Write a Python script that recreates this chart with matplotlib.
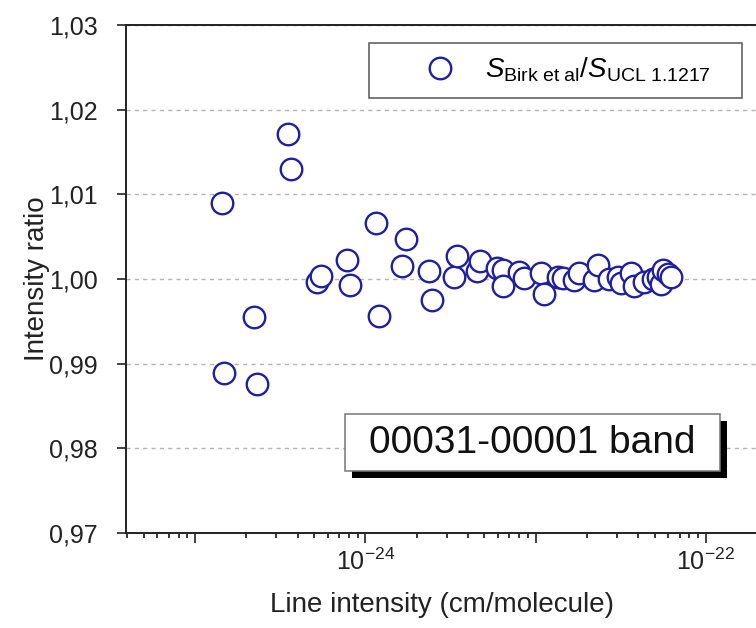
import matplotlib
matplotlib.use('Agg')
import matplotlib.pyplot as plt
from matplotlib.patches import Rectangle
from matplotlib.ticker import FixedLocator, LogLocator, NullFormatter, FuncFormatter
import numpy as np

plt.rcParams['font.family'] = ['Liberation Sans', 'DejaVu Sans']
plt.rcParams['mathtext.fontset'] = 'custom'
plt.rcParams['mathtext.rm'] = 'Liberation Sans'
plt.rcParams['mathtext.it'] = 'Liberation Sans:italic'

# line intensity (cm/molecule) and ratio S_Birk / S_UCL
intensity = [1.442e-25, 1.483e-25, 2.223e-25, 2.317e-25, 3.524e-25, 3.673e-25,
             5.224e-25, 5.508e-25, 7.834e-25, 8.166e-25, 1.161e-24, 1.208e-24,
             1.652e-24, 1.742e-24, 2.377e-24, 2.477e-24, 3.296e-24, 3.475e-24,
             4.498e-24, 4.742e-24, 5.970e-24, 6.397e-24, 6.40e-24, 7.943e-24,
             8.49e-24, 1.069e-23, 1.114e-23, 1.346e-23, 1.442e-23, 1.675e-23,
             1.791e-23, 2.193e-23, 2.317e-23, 2.685e-23, 3.034e-23, 3.162e-23,
             3.622e-23, 3.767e-23, 4.315e-23, 4.875e-23, 5.224e-23, 5.433e-23,
             5.585e-23, 5.970e-23, 6.223e-23]
ratio = [1.0090, 0.9889, 0.9955, 0.9876, 1.0171, 1.0130, 0.9997, 1.0003,
         1.0022, 0.9993, 1.0066, 0.9956, 1.0015, 1.0047, 1.0010, 0.9975,
         1.0002, 1.0027, 1.0009, 1.0021, 1.0013, 1.0011, 0.9992, 1.0008,
         1.0001, 1.0007, 0.9982, 1.0002, 1.0001, 0.9999, 1.0007, 0.9999,
         1.0017, 1.0000, 1.0002, 0.9995, 1.0007, 0.9992, 0.9996, 1.0000,
         1.0002, 0.9994, 1.0011, 1.0006, 1.0002]

y_ticks = [0.97, 0.98, 0.99, 1.00, 1.01, 1.02, 1.03]
x_decades = [-25, -24, -23, -22]
x_labelled = [-24, -22]
band_label = '00031-00001 band'
series_label = r'$S_{\mathrm{Birk\ et\ al}}/S_{\mathrm{UCL\ 1.1217}}$'

W, H = 756, 628
fig = plt.figure(figsize=(W / 100, H / 100), dpi=100)
# axes run off the right edge of the picture, as in the reference
ax = fig.add_axes([126 / W, 1 - 533 / H, (774 - 126) / W, 508 / H])

blue = '#1f1fa3'
pts, = ax.plot(intensity, ratio, 'o', ms=15.5, mfc='white', mec=blue, mew=1.7,
               ls='none', label=series_label, zorder=5)

ax.set_xscale('log')
ax.set_xlim(10 ** -25.406, 10 ** -21.6)
ax.set_ylim(0.97, 1.03)


def decade_label(v, pos):
    e = int(round(np.log10(v)))
    return r'$10^{%d}$' % e if e in x_labelled else ''


ax.xaxis.set_major_locator(FixedLocator([10.0 ** e for e in x_decades]))
ax.xaxis.set_major_formatter(FuncFormatter(decade_label))
ax.xaxis.set_minor_locator(LogLocator(base=10, subs=np.arange(2, 10), numticks=20))
ax.xaxis.set_minor_formatter(NullFormatter())

ax.yaxis.set_major_locator(FixedLocator(y_ticks))
ax.yaxis.set_major_formatter(FuncFormatter(lambda v, p: f'{v:.2f}'.replace('.', ',')))

ax.tick_params(axis='both', which='major', direction='out', length=7, width=1.2,
               labelsize=18, colors='#222222')
ax.tick_params(axis='x', which='major', pad=4)
ax.tick_params(axis='y', which='major', length=6.5, pad=14)
ax.tick_params(axis='x', which='minor', direction='out', length=3.6, width=1.1)
ax.tick_params(top=False, right=False, which='both')

for s in ax.spines.values():
    s.set_linewidth(1.4)
    s.set_color('#222222')

ax.yaxis.grid(True, ls=(0, (3, 3)), color='#b4b4b4', lw=1)
ax.set_axisbelow(True)

ax.set_xlabel('Line intensity (cm/molecule)', fontsize=20, color='#222222')
ax.set_ylabel('Intensity ratio', fontsize=20, color='#222222')
ax.xaxis.set_label_coords((442 - 126) / 648, -(592 - 533) / 508)
ax.yaxis.set_label_coords((50 - 126) / 648, 0.5)

# legend box
fig.add_artist(Rectangle((369 / W, 1 - 98 / H), (742 - 369) / W, 55 / H,
                         transform=fig.transFigure, facecolor='white',
                         edgecolor='#555555', lw=1.1, zorder=10))
leg = fig.legend(handles=[pts], loc='center left', frameon=False,
                 bbox_to_anchor=(426 / W, 1 - 70 / H), borderpad=0,
                 borderaxespad=0, handlelength=1.0, handletextpad=1.12,
                 fontsize=20, numpoints=1)
leg.set_zorder(11)

# band label with drop shadow
fig.add_artist(Rectangle((352 / W, 1 - 478 / H), 375 / W, 57 / H,
                         transform=fig.transFigure, facecolor='black',
                         edgecolor='black', lw=0, zorder=10))
fig.add_artist(Rectangle((345 / W, 1 - 471 / H), 375 / W, 57 / H,
                         transform=fig.transFigure, facecolor='white',
                         edgecolor='#777777', lw=1.1, zorder=11))
fig.text(532 / W, 1 - 443 / H, band_label, fontsize=28, ha='center', va='center',
         color='#111111', zorder=12)

fig.savefig('out.png', dpi=100)
